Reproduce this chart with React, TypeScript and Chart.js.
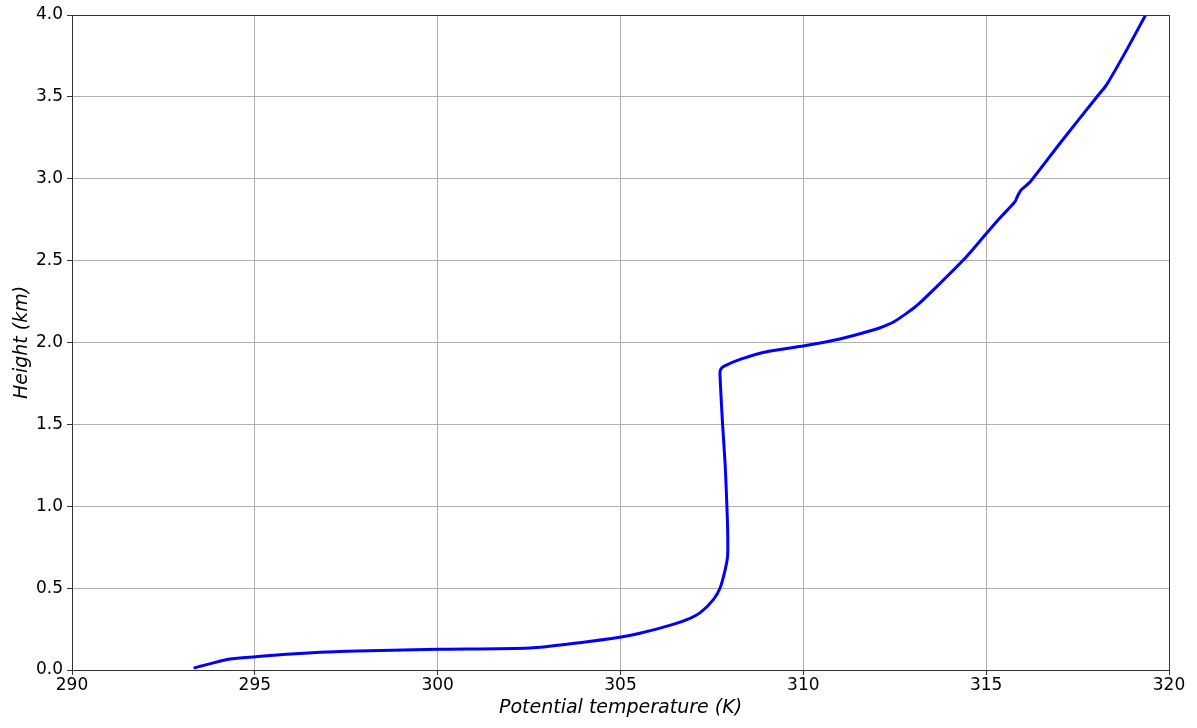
import React, { useEffect, useRef } from "react";
import { Chart, registerables } from "chart.js";

Chart.register(...registerables);

// Potential temperature profile (K) against height (km)
const thetaK = [
  293.36, 294.32, 295.03, 295.87, 297.51, 300.0, 302.52, 303.89, 305.02, 305.53,
  306.44, 306.9, 307.18, 307.54, 307.72, 307.86, 307.93, 307.93, 307.9, 307.86,
  307.79, 307.72, 307.74, 307.81, 308.27, 309.0, 310.03, 311.0, 311.91, 312.18,
  312.5, 312.82, 313.1, 313.55, 314.46, 315.01, 315.38, 315.79, 315.86, 315.95,
  316.2, 317.02, 318.02, 318.29, 318.84, 319.36,
];
const heightKm = [
  0.014, 0.067, 0.081, 0.096, 0.114, 0.126, 0.134, 0.167, 0.2015, 0.224,
  0.279, 0.316, 0.35, 0.43, 0.499, 0.61, 0.7, 0.855, 1.058, 1.262,
  1.506, 1.812, 1.835, 1.853, 1.897, 1.944, 1.98, 2.021, 2.076, 2.097,
  2.13, 2.178, 2.225, 2.32, 2.524, 2.667, 2.762, 2.86, 2.895, 2.93,
  2.98, 3.217, 3.498, 3.573, 3.786, 4.0,
];

const xTicks = [290, 295, 300, 305, 310, 315, 320];
const yTicks = [0, 0.5, 1.0, 1.5, 2.0, 2.5, 3.0, 3.5, 4.0];

const FONT = "'DejaVu Sans', sans-serif";

// Closed box around the plotting area (top and right edges included)
const frame = {
  id: "frame",
  afterDraw(chart: any) {
    const { ctx, chartArea } = chart;
    ctx.save();
    ctx.strokeStyle = "#333";
    ctx.lineWidth = 1;
    ctx.strokeRect(chartArea.left + 0.5, chartArea.top + 0.5, chartArea.right - chartArea.left, chartArea.bottom - chartArea.top);
    ctx.restore();
  },
};

export default function App() {
  const ref = useRef<HTMLCanvasElement | null>(null);

  useEffect(() => {
    if (!ref.current) return;
    const points = thetaK.map((x, i) => ({ x, y: heightKm[i] }));
    const chart = new Chart(ref.current, {
      type: "scatter",
      data: {
        datasets: [
          {
            data: points,
            showLine: true,
            borderColor: "#0000ff",
            borderWidth: 3,
            pointRadius: 0,
            tension: 0.25,
            borderCapStyle: "round",
            borderJoinStyle: "round",
          } as any,
        ],
      },
      options: {
        responsive: false,
        animation: false,
        maintainAspectRatio: false,
        layout: { padding: { left: 0, top: 15, right: 28, bottom: 0 } },
        plugins: { legend: { display: false }, tooltip: { enabled: false } },
        scales: {
          x: {
            type: "linear",
            min: 290,
            max: 320,
            afterBuildTicks: (s: any) => {
              s.ticks = xTicks.map((v) => ({ value: v }));
            },
            afterFit: (s: any) => {
              s.height = 58;
            },
            ticks: {
              color: "#000",
              font: { family: FONT, size: 17 },
              padding: 0,
              maxRotation: 0,
              callback: (v: any) => String(v),
            },
            grid: { color: "#b0b0b0", lineWidth: 1, tickLength: 5, tickColor: "#333" },
            border: { color: "#333" },
            title: {
              display: true,
              text: "Potential temperature (K)",
              color: "#000",
              font: { family: FONT, size: 19, style: "italic" },
              padding: { top: 0, bottom: 8.6 },
            },
          },
          y: {
            type: "linear",
            min: 0,
            max: 4,
            afterBuildTicks: (s: any) => {
              s.ticks = yTicks.map((v) => ({ value: v }));
            },
            afterFit: (s: any) => {
              s.width = 72;
            },
            ticks: {
              color: "#000",
              font: { family: FONT, size: 17 },
              padding: 4,
              callback: (v: any) => Number(v).toFixed(1),
            },
            grid: { color: "#b0b0b0", lineWidth: 1, tickLength: 5, tickColor: "#333" },
            border: { color: "#333" },
            title: {
              display: true,
              text: "Height (km)",
              color: "#000",
              font: { family: FONT, size: 19, style: "italic" },
              padding: { top: 10.6, bottom: 0 },
            },
          },
        },
      },
      plugins: [frame],
    });
    return () => chart.destroy();
  }, []);

  return (
    <div style={{ position: "fixed", left: 0, top: 0, width: 1197, height: 728, background: "#fff" }}>
      <canvas ref={ref} width={1197} height={728} style={{ display: "block" }} />
    </div>
  );
}
